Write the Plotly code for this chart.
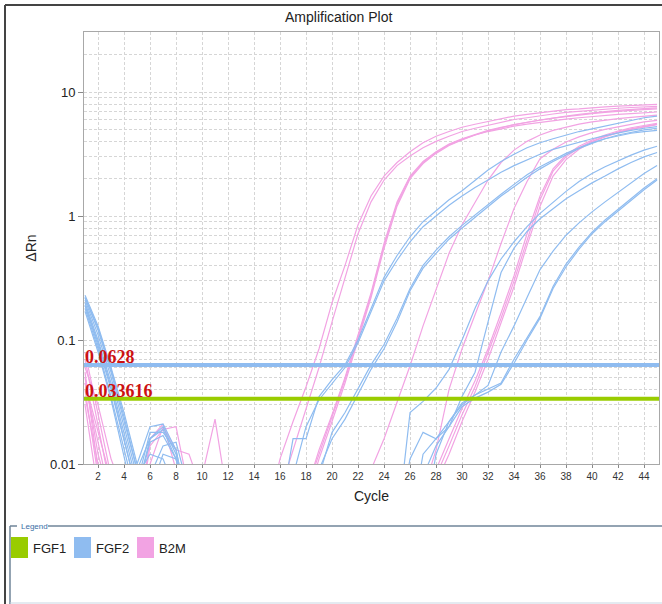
import math
import plotly.graph_objects as go

# ---------------- data ----------------
cycles = list(range(1, 46))

# B2M (pink) amplification curves, delta Rn per cycle 1..45
b2m_a1 = [0.07, 0.02, 0.006, 0.004, 0.003, 0.016, 0.021, 0.009, 0.003, 0.003,
          0.003, 0.003, 0.003, 0.003, 0.004, 0.011, 0.022, 0.042, 0.085, 0.2,
          0.4, 0.85, 1.45, 2.1, 2.7, 3.3, 3.9, 4.4, 4.8, 5.2,
          5.5, 5.8, 6.1, 6.4, 6.6, 6.8, 7.0, 7.2, 7.3, 7.5,
          7.6, 7.7, 7.8, 7.9, 7.95]
b2m_a2 = [0.05, 0.012, 0.005, 0.003, 0.003, 0.003, 0.003, 0.003, 0.003, 0.003,
          0.003, 0.003, 0.003, 0.003, 0.003, 0.006, 0.013, 0.028, 0.06, 0.14,
          0.32, 0.72, 1.3, 1.95, 2.55, 3.05, 3.55, 4.0, 4.4, 4.8,
          5.1, 5.4, 5.7, 6.0, 6.2, 6.45, 6.65, 6.85, 7.0, 7.15,
          7.3, 7.4, 7.5, 7.6, 7.65]
b2m_b1 = [0.04, 0.008, 0.003, 0.003, 0.003, 0.003, 0.003, 0.003, 0.003, 0.003,
          0.003, 0.003, 0.003, 0.003, 0.003, 0.003, 0.003, 0.006, 0.013, 0.025,
          0.05, 0.11, 0.24, 0.6, 1.3, 2.1, 2.75, 3.3, 3.8, 4.2,
          4.55, 4.9, 5.2, 5.45, 5.7, 5.95, 6.15, 6.35, 6.55, 6.7,
          6.85, 7.0, 7.1, 7.2, 7.3]
b2m_b2 = [0.035, 0.01, 0.004, 0.003, 0.003, 0.003, 0.003, 0.003, 0.003, 0.003,
          0.003, 0.003, 0.003, 0.003, 0.003, 0.003, 0.003, 0.005, 0.011, 0.022,
          0.045, 0.1, 0.22, 0.55, 1.2, 2.0, 2.65, 3.2, 3.7, 4.1,
          4.5, 4.85, 5.15, 5.45, 5.7, 5.95, 6.2, 6.4, 6.6, 6.8,
          6.95, 7.1, 7.25, 7.35, 7.45]
b2m_b3 = [0.03, 0.006, 0.003, 0.003, 0.003, 0.003, 0.003, 0.003, 0.003, 0.003,
          0.003, 0.003, 0.003, 0.003, 0.003, 0.003, 0.003, 0.006, 0.012, 0.024,
          0.048, 0.105, 0.23, 0.58, 1.25, 2.05, 2.7, 3.25, 3.75, 4.15,
          4.5, 4.8, 5.05, 5.3, 5.5, 5.7, 5.9, 6.05, 6.2, 6.35,
          6.5, 6.6, 6.7, 6.8, 6.9]
b2m_c1 = [0.06, 0.03, 0.011, 0.006, 0.003, 0.01, 0.02, 0.013, 0.012, 0.006,
          0.003, 0.003, 0.003, 0.003, 0.003, 0.003, 0.003, 0.003, 0.003, 0.003,
          0.003, 0.004, 0.009, 0.016, 0.031, 0.062, 0.13, 0.26, 0.5, 0.85,
          1.3, 1.95, 2.7, 3.4, 4.0, 4.5, 4.9, 5.2, 5.5, 5.75,
          5.95, 6.1, 6.25, 6.4, 6.5]
b2m_c2 = [0.045, 0.015, 0.005, 0.003, 0.003, 0.003, 0.003, 0.003, 0.003, 0.008,
          0.023, 0.005, 0.003, 0.003, 0.003, 0.003, 0.003, 0.003, 0.003, 0.003,
          0.003, 0.003, 0.003, 0.003, 0.003, 0.003, 0.006, 0.013, 0.04, 0.085,
          0.16, 0.3, 0.6, 1.15, 1.9, 2.9, 3.45, 3.95, 4.35, 4.7,
          5.0, 5.25, 5.5, 5.75, 5.9]
b2m_d1 = [0.08, 0.025, 0.008, 0.004, 0.003, 0.003, 0.003, 0.003, 0.003, 0.003,
          0.003, 0.003, 0.003, 0.003, 0.003, 0.003, 0.003, 0.003, 0.003, 0.003,
          0.003, 0.003, 0.003, 0.003, 0.003, 0.003, 0.004, 0.008, 0.014, 0.025,
          0.042, 0.078, 0.15, 0.3, 0.65, 1.35, 2.3, 3.0, 3.55, 4.0,
          4.4, 4.75, 5.05, 5.3, 5.5]
b2m_d2 = [0.055, 0.009, 0.004, 0.003, 0.003, 0.014, 0.019, 0.02, 0.006, 0.003,
          0.003, 0.003, 0.003, 0.003, 0.003, 0.003, 0.003, 0.003, 0.003, 0.003,
          0.003, 0.003, 0.003, 0.003, 0.003, 0.003, 0.003, 0.007, 0.012, 0.022,
          0.038, 0.07, 0.135, 0.27, 0.58, 1.2, 2.1, 2.85, 3.45, 3.95,
          4.35, 4.7, 5.0, 5.25, 5.45]
b2m_d3 = [0.045, 0.018, 0.007, 0.003, 0.003, 0.003, 0.003, 0.003, 0.003, 0.003,
          0.003, 0.003, 0.003, 0.003, 0.003, 0.003, 0.003, 0.003, 0.003, 0.003,
          0.003, 0.003, 0.003, 0.003, 0.003, 0.003, 0.004, 0.009, 0.016, 0.028,
          0.047, 0.085, 0.165, 0.33, 0.72, 1.45, 2.4, 3.1, 3.65, 4.1,
          4.5, 4.85, 5.15, 5.4, 5.6]

# FGF2 (blue) amplification curves
fgf2_a1 = [0.22, 0.12, 0.055, 0.022, 0.009, 0.016, 0.02, 0.012, 0.004, 0.003,
           0.003, 0.003, 0.003, 0.003, 0.003, 0.004, 0.016, 0.016, 0.035, 0.048,
           0.063, 0.1, 0.18, 0.32, 0.48, 0.68, 0.9, 1.1, 1.35, 1.6,
           1.95, 2.35, 2.75, 3.15, 3.55, 3.9, 4.2, 4.5, 4.8, 5.05,
           5.3, 5.6, 5.9, 6.2, 6.4]
fgf2_a2 = [0.2, 0.1, 0.045, 0.018, 0.007, 0.018, 0.018, 0.013, 0.004, 0.003,
           0.003, 0.003, 0.003, 0.003, 0.003, 0.003, 0.008, 0.02, 0.033, 0.045,
           0.06, 0.095, 0.17, 0.3, 0.44, 0.62, 0.82, 1.0, 1.22, 1.45,
           1.7, 1.95, 2.25, 2.55, 2.85, 3.15, 3.45, 3.7, 3.95, 4.2,
           4.45, 4.7, 4.9, 5.1, 5.25]
fgf2_b1 = [0.21, 0.11, 0.05, 0.02, 0.008, 0.012, 0.011, 0.006, 0.003, 0.003,
           0.003, 0.003, 0.003, 0.003, 0.003, 0.003, 0.003, 0.003, 0.009, 0.016,
           0.023, 0.036, 0.058, 0.085, 0.14, 0.25, 0.38, 0.5, 0.65, 0.8,
           0.98, 1.2, 1.45, 1.72, 2.05, 2.4, 2.75, 3.1, 3.5, 3.85,
           4.2, 4.5, 4.75, 4.95, 5.1]
fgf2_b2 = [0.19, 0.095, 0.042, 0.016, 0.006, 0.015, 0.017, 0.011, 0.004, 0.003,
           0.003, 0.003, 0.003, 0.003, 0.003, 0.003, 0.003, 0.003, 0.008, 0.018,
           0.026, 0.04, 0.063, 0.092, 0.15, 0.26, 0.4, 0.53, 0.68, 0.84,
           1.02, 1.25, 1.5, 1.8, 2.15, 2.5, 2.85, 3.2, 3.55, 3.9,
           4.2, 4.45, 4.65, 4.8, 4.9]
fgf2_c1 = [0.19, 0.09, 0.04, 0.015, 0.006, 0.016, 0.019, 0.011, 0.004, 0.003,
           0.003, 0.003, 0.003, 0.003, 0.003, 0.003, 0.003, 0.003, 0.003, 0.003,
           0.003, 0.003, 0.003, 0.003, 0.003, 0.026, 0.032, 0.041, 0.058, 0.1,
           0.18, 0.3, 0.45, 0.62, 0.82, 1.05, 1.3, 1.58, 1.9, 2.2,
           2.5, 2.8, 3.1, 3.4, 3.65]
fgf2_c2 = [0.18, 0.085, 0.035, 0.013, 0.005, 0.006, 0.012, 0.011, 0.005, 0.003,
           0.003, 0.003, 0.003, 0.003, 0.003, 0.003, 0.003, 0.003, 0.003, 0.003,
           0.003, 0.003, 0.003, 0.003, 0.003, 0.011, 0.018, 0.016, 0.02, 0.035,
           0.055, 0.14, 0.35, 0.55, 0.75, 0.95, 1.15, 1.38, 1.6, 1.85,
           2.1, 2.4, 2.7, 3.0, 3.25]
fgf2_c3 = [0.17, 0.08, 0.033, 0.012, 0.004, 0.003, 0.003, 0.003, 0.003, 0.003,
           0.003, 0.003, 0.003, 0.003, 0.003, 0.003, 0.003, 0.003, 0.003, 0.003,
           0.003, 0.003, 0.003, 0.003, 0.003, 0.003, 0.003, 0.012, 0.022, 0.03,
           0.036, 0.043, 0.08, 0.13, 0.22, 0.37, 0.52, 0.7, 0.88, 1.08,
           1.3, 1.55, 1.85, 2.2, 2.55]
fgf2_d1 = [0.23, 0.13, 0.06, 0.026, 0.01, 0.02, 0.021, 0.013, 0.004, 0.003,
           0.003, 0.003, 0.003, 0.003, 0.003, 0.003, 0.003, 0.003, 0.003, 0.003,
           0.003, 0.003, 0.003, 0.003, 0.003, 0.003, 0.012, 0.016, 0.022, 0.031,
           0.036, 0.04, 0.045, 0.07, 0.105, 0.155, 0.27, 0.41, 0.56, 0.74,
           0.93, 1.13, 1.38, 1.68, 2.0]
fgf2_d2 = [0.22, 0.125, 0.058, 0.024, 0.009, 0.008, 0.014, 0.015, 0.006, 0.003,
           0.003, 0.003, 0.003, 0.003, 0.003, 0.003, 0.003, 0.003, 0.003, 0.003,
           0.003, 0.003, 0.003, 0.003, 0.003, 0.003, 0.008, 0.014, 0.02, 0.029,
           0.034, 0.038, 0.044, 0.065, 0.1, 0.15, 0.26, 0.39, 0.54, 0.72,
           0.9, 1.1, 1.35, 1.63, 1.95]

b2m_curves = [b2m_a1, b2m_a2, b2m_b1, b2m_b2, b2m_b3, b2m_c1, b2m_c2,
              b2m_d1, b2m_d2, b2m_d3]
fgf2_curves = [fgf2_a1, fgf2_a2, fgf2_b1, fgf2_b2, fgf2_c1, fgf2_c2, fgf2_c3,
               fgf2_d1, fgf2_d2]

fgf2_threshold = 0.0628
fgf1_threshold = 0.033616

targets = ["FGF1", "FGF2", "B2M"]
target_colors = ["#99cc00", "#8fbcf0", "#f2a3e3"]

y_ticks = [0.01, 0.1, 1, 10]
y_tick_text = ["0.01", "0.1", "1", "10"]
y_minor = [m * 10 ** e for e in (-2, -1, 0, 1) for m in range(2, 10)]

# ---------------- style / layout ----------------
W, H = 662, 604
ML, MR, MT, MB = 84, 3, 32, 140
PW, PH = W - ML - MR, H - MT - MB
x_range = [0.92, 45.15]
y_range = [-2, 1.484]

GREEN, BLUE, PINK = target_colors


def xp(px):
    return (px - ML) / PW


def yp(py):
    return (H - MB - py) / PH


fig = go.Figure()

for curve in b2m_curves:
    fig.add_trace(go.Scatter(x=cycles, y=curve, mode="lines",
                             line=dict(color=PINK, width=1.2),
                             showlegend=False, hoverinfo="skip"))
for curve in fgf2_curves:
    fig.add_trace(go.Scatter(x=cycles, y=curve, mode="lines",
                             line=dict(color=BLUE, width=1.2),
                             showlegend=False, hoverinfo="skip"))

# threshold lines
for thr, col in ((fgf2_threshold, BLUE), (fgf1_threshold, GREEN)):
    fig.add_trace(go.Scatter(x=x_range, y=[thr, thr], mode="lines",
                             line=dict(color=col, width=4),
                             showlegend=False, hoverinfo="skip"))

annotations = []
for thr in (fgf2_threshold, fgf1_threshold):
    annotations.append(dict(
        x=0, xref="paper", y=math.log10(thr), yref="y",
        xanchor="left", yanchor="bottom", yshift=-4, xshift=-1,
        text=f"<b>{thr:g}</b>", showarrow=False,
        font=dict(family="Liberation Serif", size=18, color="#cc1111")))

# title
annotations.append(dict(x=xp(338), y=yp(17), xref="paper", yref="paper",
                        text="Amplification Plot", showarrow=False,
                        xanchor="center", yanchor="middle",
                        font=dict(family="Liberation Sans", size=14, color="#222")))

# legend box label
annotations.append(dict(x=xp(19), y=yp(526), xref="paper", yref="paper",
                        text="Legend", showarrow=False, xanchor="left",
                        yanchor="middle",
                        font=dict(family="Liberation Sans", size=8, color="#3a6ea5")))

shapes = []
# outer frame
shapes.append(dict(type="line", xref="paper", yref="paper",
                   x0=xp(5), x1=xp(662), y0=yp(5), y1=yp(5),
                   line=dict(color="#444", width=2)))
shapes.append(dict(type="line", xref="paper", yref="paper",
                   x0=xp(5), x1=xp(5), y0=yp(5), y1=yp(604),
                   line=dict(color="#444", width=2)))
# legend group box
shapes.append(dict(type="line", xref="paper", yref="paper",
                   x0=xp(10), x1=xp(17), y0=yp(526), y1=yp(526),
                   line=dict(color="#6f8499", width=1.5)))
shapes.append(dict(type="line", xref="paper", yref="paper",
                   x0=xp(48), x1=xp(662), y0=yp(526), y1=yp(526),
                   line=dict(color="#6f8499", width=1.5)))
shapes.append(dict(type="line", xref="paper", yref="paper",
                   x0=xp(10), x1=xp(10), y0=yp(526), y1=yp(604),
                   line=dict(color="#6f8499", width=1.5)))
shapes.append(dict(type="line", xref="paper", yref="paper",
                   x0=xp(10), x1=xp(662), y0=yp(603), y1=yp(603),
                   line=dict(color="#c9d6e3", width=1)))

# legend items
legend_x = [11, 74, 137]
for name, col, lx in zip(targets, target_colors, legend_x):
    shapes.append(dict(type="rect", xref="paper", yref="paper",
                       x0=xp(lx), x1=xp(lx + 17), y0=yp(537), y1=yp(558),
                       fillcolor=col, line=dict(width=0)))
    annotations.append(dict(x=xp(lx + 20), y=yp(548), xref="paper", yref="paper",
                            text=name, showarrow=False, xanchor="left",
                            yanchor="middle",
                            font=dict(family="Liberation Sans", size=13, color="#222")))

grid = dict(showgrid=True, gridcolor="#d6d6d6", gridwidth=1, griddash="3px,2px")

fig.update_layout(
    width=W, height=H,
    margin=dict(l=ML, r=MR, t=MT, b=MB, pad=0),
    paper_bgcolor="white", plot_bgcolor="white",
    showlegend=False,
    annotations=annotations, shapes=shapes,
    xaxis=dict(range=x_range, tickmode="linear", tick0=2, dtick=2,
               ticks="outside", ticklen=3, tickcolor="#888",
               showline=True, mirror=True, linecolor="#a8a8a8", linewidth=1,
               zeroline=False,
               tickfont=dict(family="Liberation Sans", size=10, color="#333"),
               title=dict(text="Cycle", standoff=10,
                          font=dict(family="Liberation Sans", size=14, color="#222")),
               **grid),
    yaxis=dict(type="log", range=y_range, tickmode="array",
               tickvals=y_ticks, ticktext=y_tick_text,
               ticks="outside", ticklen=5, tickcolor="#888",
               showline=True, mirror=True, linecolor="#a8a8a8", linewidth=1,
               zeroline=False,
               tickfont=dict(family="Liberation Sans", size=13, color="#222"),
               title=dict(text="ΔRn", standoff=10,
                          font=dict(family="Liberation Sans", size=14, color="#222")),
               minor=dict(tickmode="array", tickvals=y_minor, ticks="",
                          showgrid=True, gridcolor="#d6d6d6", griddash="3px,2px"),
               **grid),
)

fig.write_html("out.html")
